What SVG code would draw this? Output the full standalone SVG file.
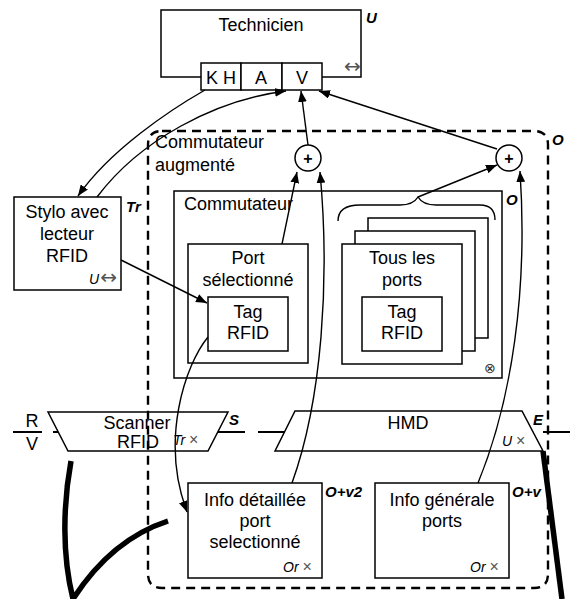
<svg xmlns="http://www.w3.org/2000/svg" width="570" height="599" viewBox="0 0 570 599">
<style>
text{font-family:"Liberation Sans",Arial,sans-serif;fill:#000}
.t{font-size:18px;text-anchor:middle}
.lbl{font-size:15px;font-weight:bold;font-style:italic}
.sm{font-size:14px;font-style:italic}
.gx{fill:#555;font-style:normal;font-size:16px}
.arr{fill:#555;font-style:normal;font-size:20px;font-family:"DejaVu Sans",sans-serif}
.box{fill:#fff;stroke:#000;stroke-width:1.5}
.trap{fill:none;stroke:#000;stroke-width:1.5}
.dash{fill:none;stroke:#000;stroke-width:2.4;stroke-dasharray:9 6}
.c{fill:none;stroke:#000;stroke-width:1.4}
.thick{fill:none;stroke:#000;stroke-width:5.5}
.plus{font-size:16px;font-weight:bold;text-anchor:middle}
</style>
<defs>
<marker id="ah" viewBox="0 0 10 8" refX="10" refY="4" markerWidth="11" markerHeight="9" markerUnits="userSpaceOnUse" orient="auto">
<path d="M0,0 L10,4 L0,8 z" fill="#000"/>
</marker>
</defs>

<g id="commutateur-augmente">
<path class="dash" d="M162,131 L534,131 Q548,131 548,145 L548,574 Q548,588 534,588 L162,588 Q148,588 148,574 L148,145 Q148,131 162,131 Z"/>
<text class="t" x="155" y="148" style="text-anchor:start">Commutateur</text>
<text class="t" x="155" y="171" style="text-anchor:start">augmenté</text>
<text class="lbl" x="552" y="145">O</text>
</g>

<g id="technicien">
<rect class="box" x="161" y="10" width="200" height="67"/>
<text class="t" x="261" y="31">Technicien</text>
<text class="lbl" x="366" y="23">U</text>
<text class="arr" x="344" y="73">↔</text>
<rect class="box" x="201" y="63" width="40" height="27"/>
<rect class="box" x="241" y="63" width="41" height="27"/>
<rect class="box" x="282" y="63" width="40" height="27"/>
<text class="t" x="221" y="84">K H</text>
<text class="t" x="261" y="84">A</text>
<text class="t" x="302" y="84">V</text>
</g>

<g id="stylo">
<rect class="box" x="14" y="197" width="107" height="93"/>
<text class="t" x="67" y="218">Stylo avec</text>
<text class="t" x="67" y="240">lecteur</text>
<text class="t" x="67" y="262">RFID</text>
<text class="sm" x="89" y="284">U<tspan class="arr" dx="1">↔</tspan></text>
<text class="lbl" x="126" y="212">Tr</text>
</g>

<g id="commutateur">
<rect class="box" x="174" y="191" width="328" height="187"/>
<text class="t" x="184" y="210" style="text-anchor:start">Commutateur</text>
<text class="lbl" x="506" y="205">O</text>
<text x="490" y="373" style="font-size:14px;fill:#333;text-anchor:middle">⊗</text>
</g>

<g id="port-selectionne">
<rect class="box" x="188" y="244" width="120" height="119"/>
<text class="t" x="248" y="264">Port</text>
<text class="t" x="248" y="286">sélectionné</text>
<rect class="box" x="208" y="297" width="80" height="54"/>
<text class="t" x="248" y="318">Tag</text>
<text class="t" x="248" y="339">RFID</text>
</g>

<g id="tous-les-ports">
<rect class="box" x="368" y="218" width="120" height="120"/>
<rect class="box" x="355" y="231" width="120" height="120"/>
<rect class="box" x="342" y="244" width="120" height="120"/>
<text class="t" x="402" y="264">Tous les</text>
<text class="t" x="402" y="286">ports</text>
<rect class="box" x="362" y="297" width="80" height="54"/>
<text class="t" x="402" y="318">Tag</text>
<text class="t" x="402" y="339">RFID</text>
<path class="c" d="M338,221 C338,210 346,205 360,205 L400,205 C410,205 415,202 418,197 C421,202 426,205 436,205 L480,205 C490,205 495,210 495,220"/>
</g>

<g id="plus-gauche">
<circle cx="308" cy="158" r="13" fill="#fff" stroke="#000" stroke-width="1.5"/>
<text class="plus" x="308" y="164">+</text>
</g>
<g id="plus-droite">
<circle cx="509" cy="158" r="13" fill="#fff" stroke="#000" stroke-width="1.5"/>
<text class="plus" x="509" y="164">+</text>
</g>

<g id="rv">
<text class="t" x="32" y="427">R</text>
<text class="t" x="32" y="450">V</text>
<path class="c" d="M13,432 H42 M53,432 H58 M218,432 H245 M258,432 H285 M543,432 H570" style="stroke-width:1.8"/>
</g>

<g id="scanner">
<path class="trap" d="M48,412 L228,412 L208,451 L68,451 Z"/>
<text class="t" x="137" y="429">Scanner</text>
<text class="t" x="138" y="448">RFID</text>
<text class="sm" x="173" y="445">Tr <tspan class="gx">×</tspan></text>
<text class="lbl" x="229" y="425">S</text>
</g>

<g id="hmd">
<path class="trap" d="M295,411 L522,411 L543,451 L275,451 Z"/>
<text class="t" x="408" y="429">HMD</text>
<text class="sm" x="502" y="446">U <tspan class="gx">×</tspan></text>
<text class="lbl" x="533" y="425">E</text>
</g>

<g id="info-detaillee">
<rect class="box" x="188" y="483" width="134" height="95"/>
<text class="t" x="255" y="506">Info détaillée</text>
<text class="t" x="255" y="527">port</text>
<text class="t" x="255" y="548">selectionné</text>
<text class="sm" x="283" y="572">Or <tspan class="gx">×</tspan></text>
<text class="lbl" x="325" y="497">O+v2</text>
</g>

<g id="info-generale">
<rect class="box" x="375" y="483" width="134" height="95"/>
<text class="t" x="442" y="506">Info générale</text>
<text class="t" x="442" y="527">ports</text>
<text class="sm" x="470" y="572">Or <tspan class="gx">×</tspan></text>
<text class="lbl" x="512" y="497">O+v</text>
</g>

<g id="connecteurs">
<path class="c" marker-end="url(#ah)" d="M205,90 C170,110 110,150 78,196"/>
<path class="c" marker-end="url(#ah)" d="M97,197 C140,140 215,100 286,91"/>
<path class="c" marker-end="url(#ah)" d="M308,145 L301,91"/>
<path class="c" marker-end="url(#ah)" d="M497,149 L319,91"/>
<path class="c" marker-end="url(#ah)" d="M282,244 L297,172"/>
<path class="c" marker-end="url(#ah)" d="M418,197 L497,165"/>
<path class="c" marker-end="url(#ah)" d="M292,483 C322,400 330,280 320,172"/>
<path class="c" marker-end="url(#ah)" d="M478,483 C512,400 528,290 520,171"/>
<path class="c" marker-end="url(#ah)" d="M121,260 L207,303"/>
<path class="c" marker-end="url(#ah)" d="M208,337 C185,365 160,440 187,512"/>
<path class="thick" d="M71,461 C63,505 62,555 73,599 C95,565 125,535 168,521"/>
<path class="thick" d="M543,451 L562,599"/>
</g>
</svg>
